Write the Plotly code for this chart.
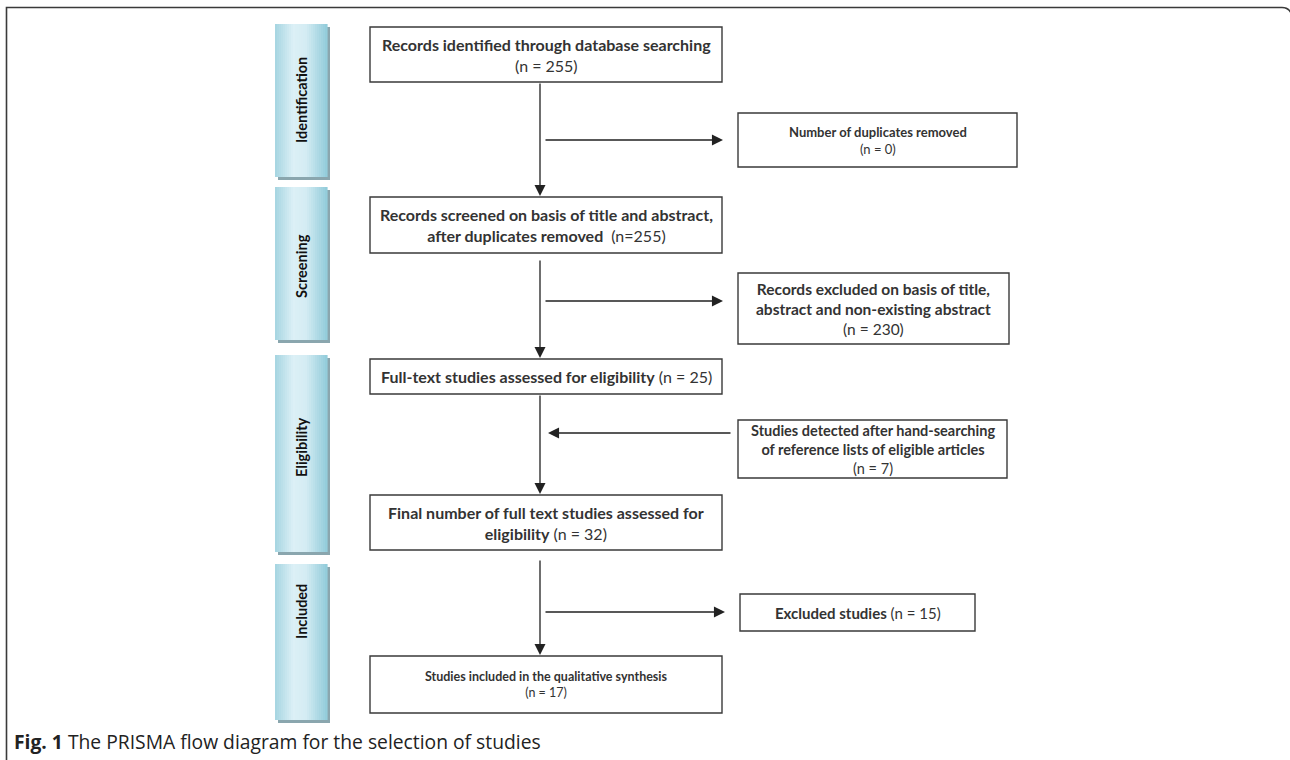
import plotly.graph_objects as go

# ---------------- data ----------------
stages = ["Identification", "Screening", "Eligibility", "Included"]

flow_labels = [
    "Records identified through database searching",
    "Records screened on basis of title and abstract,<br>after duplicates removed ",
    "Full-text studies assessed for eligibility",
    "Final number of full text studies assessed for<br>eligibility",
    "Studies included in the qualitative synthesis",
]
flow_counts = [255, 255, 25, 32, 17]
flow_count_fmt = ["<br>(n = {})", " (n={})", " (n = {})", " (n = {})", "<br>(n = {})"]

side_labels = [
    "Number of duplicates removed",
    "Records excluded on basis of title,<br>abstract and non-existing abstract",
    "Studies detected after hand-searching<br>of reference lists of eligible articles",
    "Excluded studies",
]
side_counts = [0, 230, 7, 15]
side_count_fmt = ["<br>(n = {})", "<br>(n = {})", "<br>(n = {})", " (n = {})"]
side_direction = ["out", "out", "in", "out"]

caption_bold = "Fig. 1"
caption_text = " The PRISMA flow diagram for the selection of studies"

# ---------------- layout geometry (pixels) ----------------
W, H = 1290, 760
stage_x = (275, 327)
stage_y = [(24, 177), (187, 340), (355, 552), (564, 720)]
stage_text_y = [100, 266, 447, 612]

flow_x = (370, 722)
flow_y = [(27, 82), (197, 253), (359, 394), (495, 550), (656, 713)]
flow_font = [16, 16, 16, 16, 12.5]
arrow_start_y = [82, 259, 394, 559]

side_x = [(738, 1017), (738, 1009), (738, 1007), (740, 975)]
side_y = [(113, 167), (273, 344), (420, 478), (594, 631)]
side_font = [13, 15.5, 14.5, 15]
side_arrow_y = [140, 301, 433, 612]

TXT = "#333333"
LINE = "#222222"
FONT = "Lato"

fig = go.Figure()
shapes = []
annotations = []

# outer frame
shapes.append(dict(type="path", xref="x", yref="y",
                   path="M 6.5,765 L 6.5,7.5 L 1282,7.5 Q 1290,7.5 1292,16",
                   line=dict(color="#3a3a3a", width=1.6)))

# stage labels with gradient and shadow
def lerp(c1, c2, t):
    return tuple(int(round(a + (b - a) * t)) for a, b in zip(c1, c2))

stops = [(0.0, (165, 212, 225)), (0.35, (220, 240, 246)), (0.6, (212, 236, 243)), (1.0, (145, 203, 218))]

def grad(t):
    for (t0, c0), (t1, c1) in zip(stops[:-1], stops[1:]):
        if t0 <= t <= t1:
            return lerp(c0, c1, (t - t0) / (t1 - t0))
    return stops[-1][1]

for (y0, y1), name, ty in zip(stage_y, stages, stage_text_y):
    x0, x1 = stage_x
    shapes.append(dict(type="rect", xref="x", yref="y", x0=x0 + 3, x1=x1 + 3, y0=y0 + 3, y1=y1 + 3,
                       fillcolor="#8aa6ae", line=dict(width=0), layer="below"))
    n = 26
    step = (x1 - x0) / n
    for i in range(n):
        c = grad((i + 0.5) / n)
        shapes.append(dict(type="rect", xref="x", yref="y", x0=x0 + i * step, x1=x0 + (i + 1) * step + 0.6,
                           y0=y0, y1=y1, fillcolor="rgb(%d,%d,%d)" % c, line=dict(width=0), layer="below"))
    annotations.append(dict(x=(x0 + x1) / 2, y=ty, xref="x", yref="y", text="<b>%s</b>" % name,
                            textangle=-90, showarrow=False,
                            font=dict(family=FONT, size=14.5, color="#111111")))

def box(x0, x1, y0, y1):
    shapes.append(dict(type="rect", xref="x", yref="y", x0=x0, x1=x1, y0=y0, y1=y1,
                       fillcolor="white", line=dict(color="#3a3a3a", width=1.4)))

# main flow boxes
for (y0, y1), lab, cnt, fmt, fs in zip(flow_y, flow_labels, flow_counts, flow_count_fmt, flow_font):
    box(flow_x[0], flow_x[1], y0, y1)
    annotations.append(dict(x=(flow_x[0] + flow_x[1]) / 2, y=(y0 + y1) / 2, xref="x", yref="y",
                            text="<b>%s</b>%s" % (lab, fmt.format(cnt)), showarrow=False, align="center",
                            font=dict(family=FONT, size=fs, color=TXT)))

# side boxes
for (x0, x1), (y0, y1), lab, cnt, fmt, fs in zip(side_x, side_y, side_labels, side_counts, side_count_fmt, side_font):
    box(x0, x1, y0, y1)
    annotations.append(dict(x=(x0 + x1) / 2, y=(y0 + y1) / 2, xref="x", yref="y",
                            text="<b>%s</b>%s" % (lab, fmt.format(cnt)), showarrow=False, align="center",
                            font=dict(family=FONT, size=fs, color=TXT)))

cx = 540
def arrow(x_tail, y_tail, x_tip, y_tip):
    annotations.append(dict(x=x_tip, y=y_tip, ax=x_tail, ay=y_tail, xref="x", yref="y",
                            axref="x", ayref="y", text="", showarrow=True, arrowhead=2,
                            arrowsize=1.7, arrowwidth=1.3, arrowcolor=LINE, standoff=0))

# vertical arrows
for ys, (ny0, _) in zip(arrow_start_y, flow_y[1:]):
    arrow(cx, ys, cx, ny0 - 1)

# side arrows
for (x0, x1), ay, d in zip(side_x, side_arrow_y, side_direction):
    if d == "out":
        arrow(cx + 4, ay, x0 - 15, ay)
    else:
        arrow(x0 - 6, ay, cx + 8, ay)

# caption
annotations.append(dict(x=12, y=741, xref="x", yref="y", xanchor="left", showarrow=False,
                        text="<b>%s</b>%s" % (caption_bold, caption_text),
                        font=dict(family="Open Sans", size=19.3, color="#222222")))

fig.update_layout(
    width=W, height=H, margin=dict(l=0, r=0, t=0, b=0),
    paper_bgcolor="white", plot_bgcolor="white",
    xaxis=dict(range=[0, W], visible=False, fixedrange=True),
    yaxis=dict(range=[H, 0], visible=False, fixedrange=True),
    shapes=shapes, annotations=annotations, showlegend=False,
)

fig.write_html("out.html", config={"displayModeBar": False},
               post_script="document.body.style.margin='0';document.body.style.overflow='hidden';")
